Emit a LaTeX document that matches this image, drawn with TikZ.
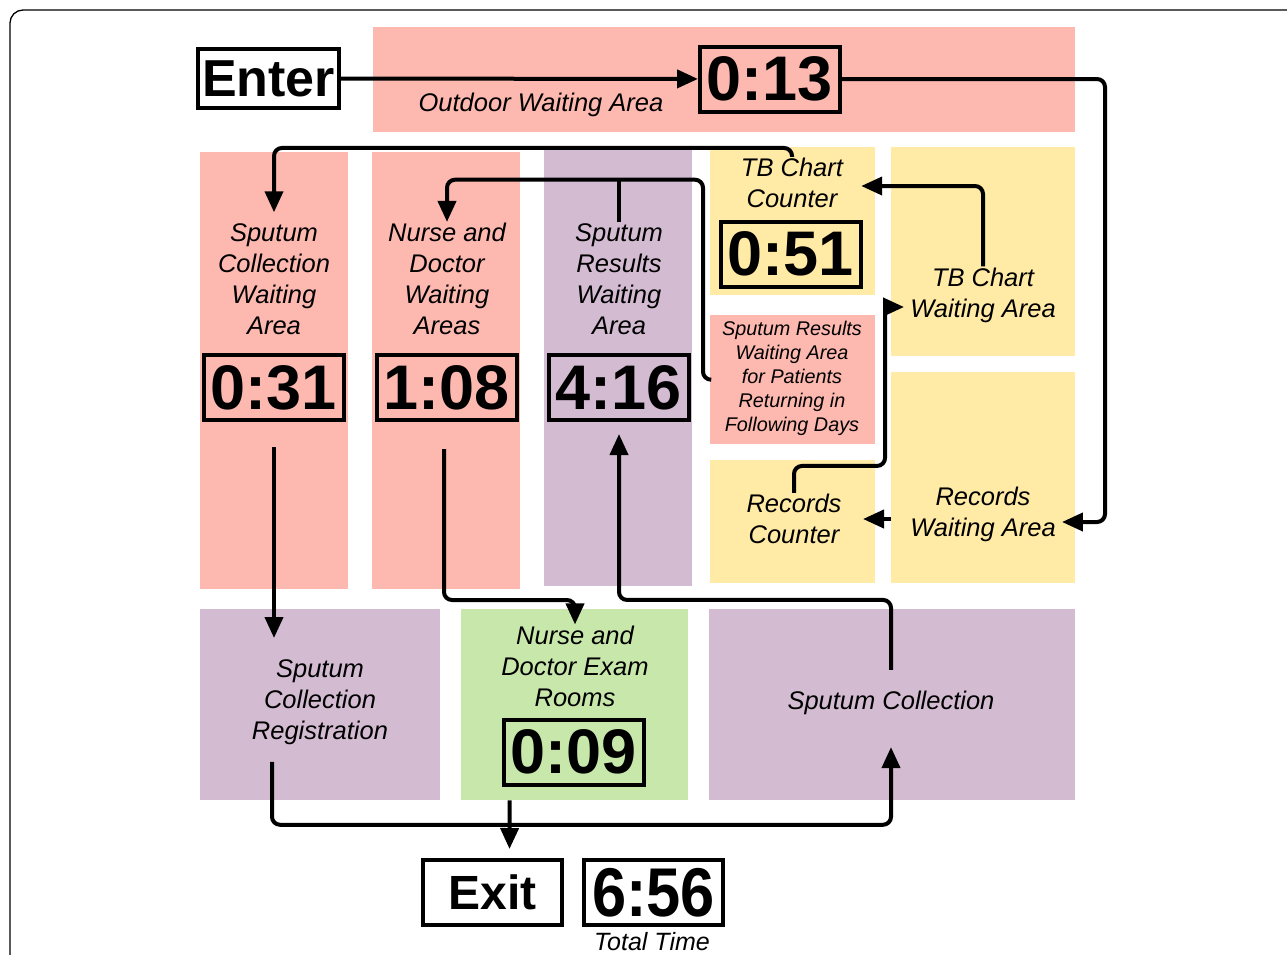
\documentclass[tikz,border=0pt]{standalone}
\usepackage{fontspec}
\setmainfont{Liberation Sans}
\usetikzlibrary{arrows.meta}
\definecolor{areapink}{RGB}{253,184,175}
\definecolor{areapurple}{RGB}{211,187,210}
\definecolor{areayellow}{RGB}{255,234,166}
\definecolor{areagreen}{RGB}{199,232,170}
\tikzset{
  area/.style={anchor=north west, inner sep=0pt},
  lbl/.style={font=\fontsize{25.5}{31}\selectfont\itshape, align=center, inner sep=1pt},
  small lbl/.style={font=\fontsize{19.8}{24}\selectfont\itshape, align=center, inner sep=1pt},
  timebox/.style={draw, line width=4pt, minimum width=140pt, minimum height=65pt, inner sep=0pt, font=\fontsize{63}{63}\selectfont\bfseries},
  flow/.style={line width=4pt, rounded corners=8pt, -{Triangle[length=21pt,width=18pt]}},
}

\begin{document}
\begin{tikzpicture}[x=1pt,y=-1pt]
    \useasboundingbox (0,0) rectangle (1287,954) ;
    \clip (0,0) rectangle (1287,954) ;
    \draw[line width=1.3pt, rounded corners=13pt] (10,990) -- (10,10) -- (1310,10) ;
    \foreach \n/\x/\y/\w/\h/\c in {a-out/373/27/702/105/areapink, a-scw/200/152/148/437/areapink,
      a-ndw/372/152/148/437/areapink, a-srw/544/149/148/437/areapurple, a-tbc/710/147/165/148/areayellow,
      a-tbw/891/147/184/209/areayellow, a-srp/710/315/165/129/areapink, a-rc/710/460/165/123/areayellow,
      a-rw/891/372/184/211/areayellow, a-scr/200/609/240/191/areapurple, a-ndr/461/609/227/191/areagreen,
      a-sc/709/609/366/191/areapurple}
    \node[area, fill=\c, minimum width=\w pt, minimum height=\h pt] (\n) at (\x,\y) {} ;
    % area labels
    \node[lbl] (out) at (541,105) {Outdoor Waiting Area} ;
    \node[lbl] (scw) at (274,279) {Sputum\\Collection\\Waiting\\Area} ;
    \node[lbl] (ndw) at (447,279) {Nurse and\\Doctor\\Waiting\\Areas} ;
    \node[lbl] (srw) at (619,279) {Sputum\\Results\\Waiting\\Area} ;
    \node[lbl] (tbc) at (792,183) {TB Chart\\Counter} ;
    \node[lbl] (tbw) at (983,295) {TB Chart\\Waiting Area} ;
    \node[small lbl] (srp) at (792,378) {Sputum Results\\Waiting Area\\for Patients\\Returning in\\Following Days} ;
    \node[lbl] (rc) at (794,519) {Records\\Counter} ;
    \node[lbl] (rw) at (983,514) {Records\\Waiting Area} ;
    \node[lbl] (scr) at (320,702) {Sputum\\Collection\\Registration} ;
    \node[lbl] (ndr) at (575,666) {Nurse and\\Doctor Exam\\Rooms} ;
    \node[lbl] (sc) at (891,703) {Sputum Collection} ;
    % times
    \node[timebox, minimum width=141pt, minimum height=59pt, font=\fontsize{52}{52}\selectfont\bfseries] (enter) at (268.5,78.5) {Enter} ;
    \node[timebox] (t13) at (770,79) {0:13} ;
    \node[timebox] (t31) at (274,387.5) {0:31} ;
    \node[timebox] (t108) at (447,387.5) {1:08} ;
    \node[timebox] (t416) at (619,387.5) {4:16} ;
    \node[timebox] (t51) at (791,254) {0:51} ;
    \node[timebox] (t09) at (574,752) {0:09} ;
    \node[timebox, minimum width=139pt, font=\fontsize{48}{48}\selectfont\bfseries] (exit) at (492.5,892.5) {Exit} ;
    \node[timebox, minimum width=139pt, font=\fontsize{69}{69}\selectfont\bfseries] (t656) at (653.5,892.5) {\scalebox{0.89}[1]{6:56}} ;
    \node[font=\fontsize{25}{25}\selectfont\itshape] (total) at (652,942) {Total Time} ;
    % paths
    \draw[flow] (enter) -- (t13) ;
    \draw[flow] (t13.east) -- ++(263,0) |- ([xshift=5pt,yshift=-8pt]rw.east) ;
    \draw[flow] (a-rw.west |- rc.east) -- ++(-28,0) ;
    \draw[flow] (rc.north) -- ++(0,-27) -| ([xshift=-24pt,yshift=-12pt]tbw.west) -- ([xshift=-5pt,yshift=-12pt]tbw.west) ;
    \draw[flow] (tbw.north) |- ([xshift=17pt,yshift=-3pt]tbc.east) ;
    \draw[flow] (tbc.north) -- ++(0,-9) -| ([yshift=10pt]scw.north) ;
    \draw[flow] ([yshift=-25pt]t31.south) -- ++(0,191) ;
    \draw[flow] ([xshift=-48pt,yshift=-16pt]scr.south) -- ++(0,63) -| ([yshift=-31pt]sc.south) ;
    \draw[flow] ([yshift=20pt]sc.north) -- ++(0,-70) -| ([yshift=-12pt]t416.south) ;
    \draw[flow] (a-srp.west) -- ++(-7,0) -- ++(0,-200) coordinate (top) -| (ndw.north) ;
    \draw[line width=4pt] (srw.north) -- (srw.north |- top) ;
    \draw[flow] ([xshift=-3pt,yshift=-27pt]t108.south) -- ++(0,151) -| (ndr.north) ;
    \draw[flow] ([xshift=-65pt]a-ndr.south) -- ([xshift=17pt,yshift=9pt]exit.north) ;
\end{tikzpicture}
\end{document}
